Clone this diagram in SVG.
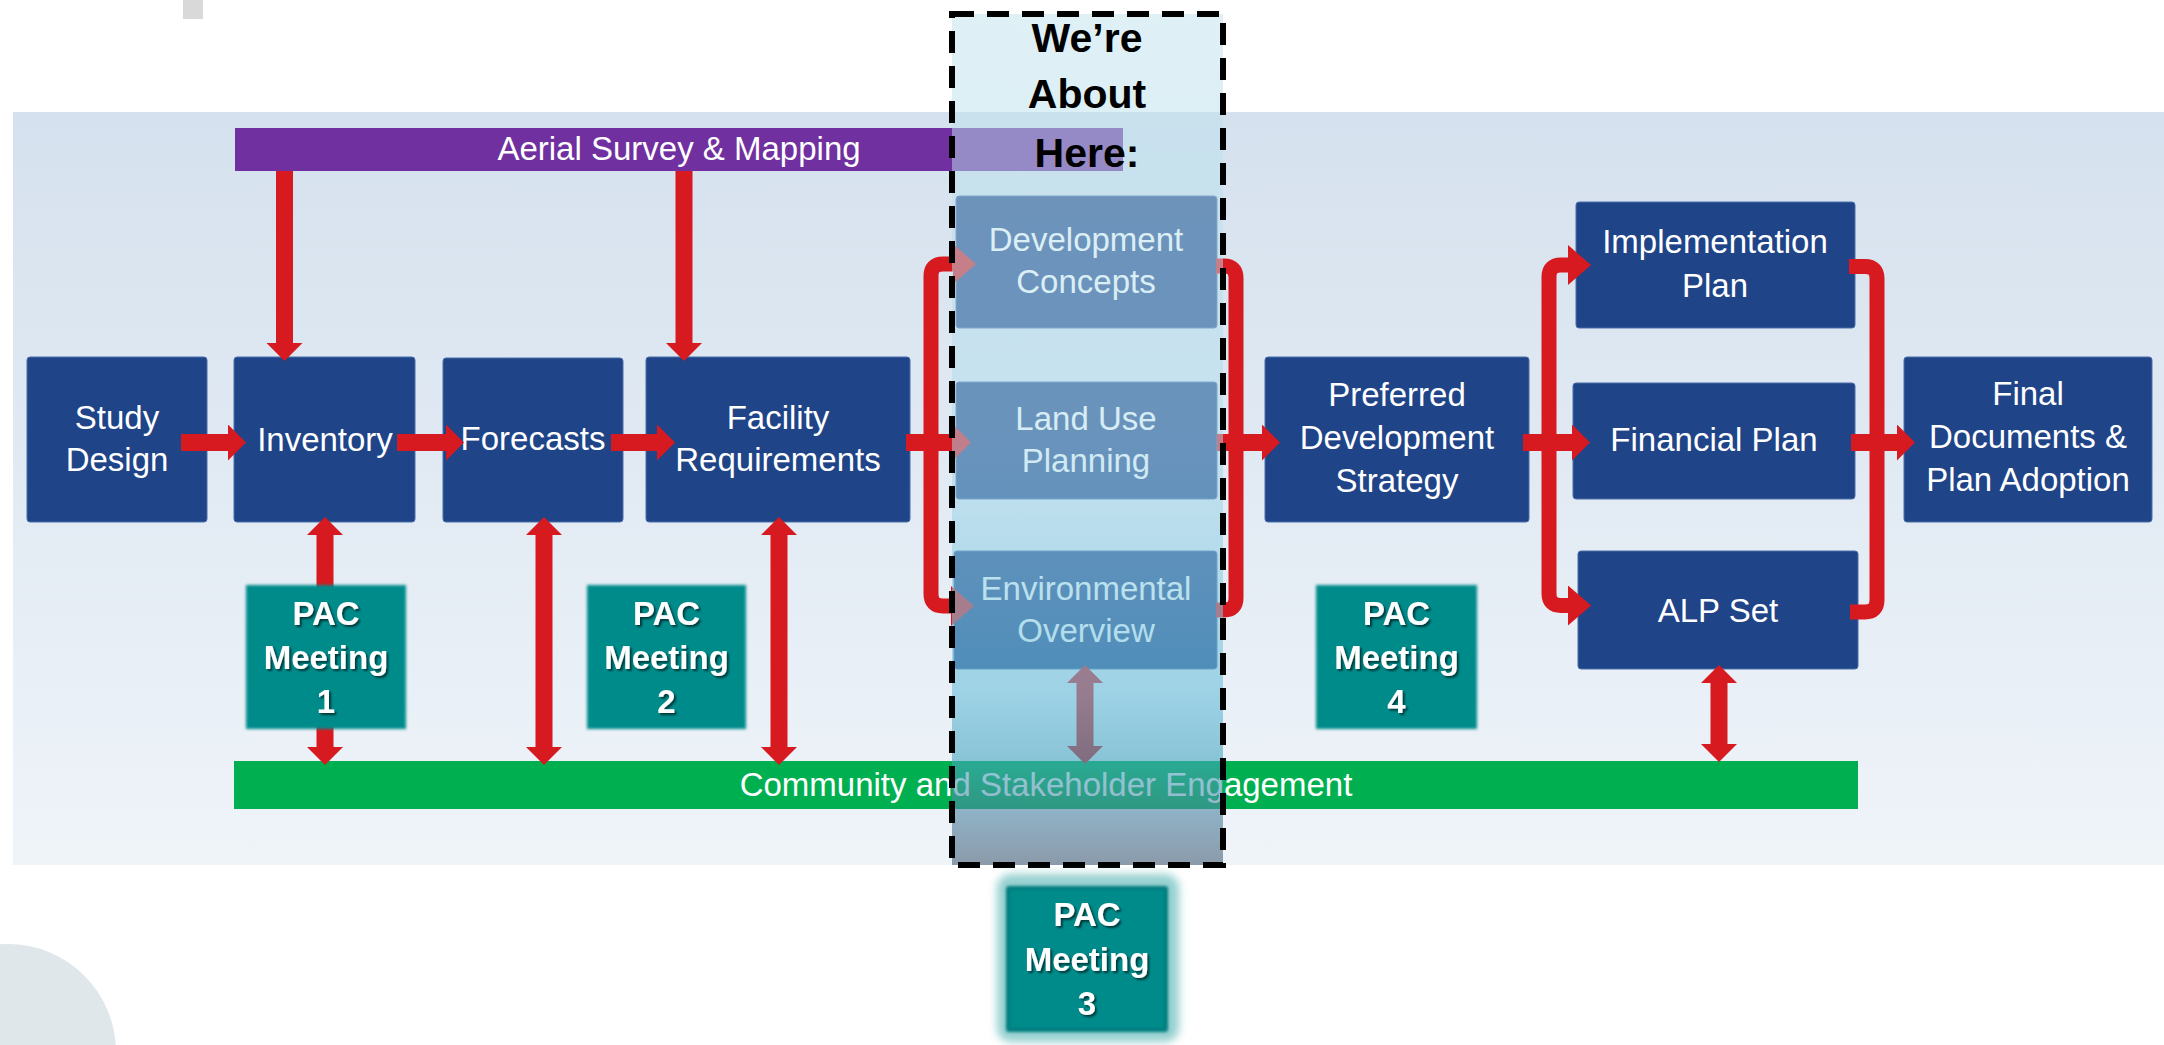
<svg xmlns="http://www.w3.org/2000/svg" width="2164" height="1045" viewBox="0 0 2164 1045">
  <style>
    .box { fill: #1f4488; stroke: #4a6ea8; stroke-width: 1; }
    .lbl { font-family: "Liberation Sans", Arial, sans-serif; font-size: 33px; fill: #ffffff; text-anchor: middle; }
    .pac { fill: #008b8b; }
    .pact { font-family: "Liberation Sans", Arial, sans-serif; font-size: 33px; font-weight: bold; fill: #ffffff; text-anchor: middle; }
    .flow { fill: none; stroke: #d71920; stroke-width: 17; }
    .brk { fill: none; stroke: #d71920; stroke-width: 15; }
    .here { font-family: "Liberation Sans", Arial, sans-serif; font-size: 41px; font-weight: bold; fill: #000000; text-anchor: middle; }
  </style>
  <defs>
    <linearGradient id="panelGrad" x1="0" y1="0" x2="0" y2="1">
      <stop offset="0" stop-color="#d5e1ee"/>
      <stop offset="1" stop-color="#eff4f9"/>
    </linearGradient>
    <linearGradient id="hiGrad" gradientUnits="userSpaceOnUse" x1="0" y1="14" x2="0" y2="865">
      <stop offset="0" stop-color="rgb(191,226,236)" stop-opacity="0.5"/>
      <stop offset="0.49" stop-color="rgb(175,220,236)" stop-opacity="0.52"/>
      <stop offset="0.8" stop-color="rgb(107,190,218)" stop-opacity="0.6"/>
      <stop offset="0.88" stop-color="rgb(70,165,190)" stop-opacity="0.6"/>
      <stop offset="0.94" stop-color="rgb(80,132,162)" stop-opacity="0.6"/>
      <stop offset="1" stop-color="rgb(72,95,118)" stop-opacity="0.6"/>
    </linearGradient>
    <marker id="ah" viewBox="0 -18 18 36" markerWidth="18" markerHeight="36" refX="0" refY="0" markerUnits="userSpaceOnUse" orient="auto-start-reverse">
      <path d="M0,-18 L18,0 L0,18 Z" fill="#d71920"/>
    </marker>
    <marker id="ahb" viewBox="0 -20 23 40" markerWidth="23" markerHeight="40" refX="0" refY="0" markerUnits="userSpaceOnUse" orient="auto-start-reverse">
      <path d="M0,-20 L23,0 L0,20 Z" fill="#d71920"/>
    </marker>
    <filter id="soft" x="-10%" y="-10%" width="120%" height="120%">
      <feGaussianBlur stdDeviation="1.6"/>
    </filter>
    <filter id="glow" x="-20%" y="-20%" width="140%" height="140%">
      <feGaussianBlur stdDeviation="4"/>
    </filter>
    <filter id="tshadow" x="-20%" y="-20%" width="140%" height="140%">
      <feDropShadow dx="2" dy="2" stdDeviation="1.2" flood-color="#000000" flood-opacity="0.6"/>
    </filter>
  </defs>

  <!-- page decorations -->
  <rect x="183" y="0" width="20" height="19" fill="#d9d9d9"/>
  <circle cx="8" cy="1052" r="108" fill="#dfe7ea"/>

  <!-- backdrop panel -->
  <rect x="13" y="112" width="2151" height="753" fill="url(#panelGrad)"/>

  <!-- horizontal bands -->
  <g id="aerial-survey">
    <rect x="235" y="128" width="888" height="43" fill="#7030a0"/>
    <text class="lbl" x="679" y="160">Aerial Survey &amp; Mapping</text>
  </g>
  <g id="community-engagement">
    <rect x="234" y="761" width="1624" height="48" fill="#00b050"/>
    <text class="lbl" x="1046" y="796">Community and Stakeholder Engagement</text>
  </g>

  <!-- process steps -->
  <g id="study-design">
    <rect class="box" x="27" y="357" width="180" height="165" rx="3"/>
    <text class="lbl" x="117" y="429">Study</text>
    <text class="lbl" x="117" y="471">Design</text>
  </g>
  <g id="inventory">
    <rect class="box" x="234" y="357" width="181" height="165" rx="3"/>
    <text class="lbl" x="325" y="451">Inventory</text>
  </g>
  <g id="forecasts">
    <rect class="box" x="443" y="358" width="180" height="164" rx="3"/>
    <text class="lbl" x="533" y="450">Forecasts</text>
  </g>
  <g id="facility-requirements">
    <rect class="box" x="646" y="357" width="264" height="165" rx="3"/>
    <text class="lbl" x="778" y="429">Facility</text>
    <text class="lbl" x="778" y="471">Requirements</text>
  </g>
  <g id="development-concepts">
    <rect class="box" x="956" y="196" width="261" height="132" rx="3"/>
    <text class="lbl" x="1086" y="251">Development</text>
    <text class="lbl" x="1086" y="293">Concepts</text>
  </g>
  <g id="land-use-planning">
    <rect class="box" x="956" y="382" width="261" height="117" rx="3"/>
    <text class="lbl" x="1086" y="430">Land Use</text>
    <text class="lbl" x="1086" y="472">Planning</text>
  </g>
  <g id="environmental-overview">
    <rect class="box" x="954" y="551" width="263" height="118" rx="3"/>
    <text class="lbl" x="1086" y="600">Environmental</text>
    <text class="lbl" x="1086" y="642">Overview</text>
  </g>
  <g id="preferred-strategy">
    <rect class="box" x="1265" y="357" width="264" height="165" rx="3"/>
    <text class="lbl" x="1397" y="406">Preferred</text>
    <text class="lbl" x="1397" y="449">Development</text>
    <text class="lbl" x="1397" y="492">Strategy</text>
  </g>
  <g id="implementation-plan">
    <rect class="box" x="1576" y="202" width="279" height="126" rx="3"/>
    <text class="lbl" x="1715" y="253">Implementation</text>
    <text class="lbl" x="1715" y="297">Plan</text>
  </g>
  <g id="financial-plan">
    <rect class="box" x="1573" y="383" width="282" height="116" rx="3"/>
    <text class="lbl" x="1714" y="451">Financial Plan</text>
  </g>
  <g id="alp-set">
    <rect class="box" x="1578" y="551" width="280" height="118" rx="3"/>
    <text class="lbl" x="1718" y="622">ALP Set</text>
  </g>
  <g id="final-documents">
    <rect class="box" x="1904" y="357" width="248" height="165" rx="3"/>
    <text class="lbl" x="2028" y="405">Final</text>
    <text class="lbl" x="2028" y="448">Documents &amp;</text>
    <text class="lbl" x="2028" y="491">Plan Adoption</text>
  </g>

  <!-- connectors -->
  <g id="connectors">
    <!-- survey feeds -->
    <path class="flow" d="M284.5,171 V343" marker-end="url(#ah)"/>
    <path class="flow" d="M684,171 V343" marker-end="url(#ah)"/>
    <!-- main sequence -->
    <path class="flow" d="M181,442.5 H228" marker-end="url(#ah)"/>
    <path class="flow" d="M397,442.5 H446" marker-end="url(#ah)"/>
    <path class="flow" d="M611,442.5 H657" marker-end="url(#ah)"/>
    <path class="flow" d="M906,442.5 H953" marker-end="url(#ah)"/>
    <!-- split into the three alternatives studies -->
    <path class="brk" d="M931,445 V276 Q931,264 943,264 H953" marker-end="url(#ahb)"/>
    <path class="brk" d="M931,440 V594 Q931,606 943,606 H951" marker-end="url(#ahb)"/>
    <!-- merge into preferred strategy -->
    <path class="brk" d="M1216,266 H1224 Q1236,266 1236,278 V598 Q1236,610 1224,610 H1216"/>
    <path class="flow" d="M1217,442.5 H1262" marker-end="url(#ah)"/>
    <!-- split into the plan set -->
    <path class="flow" d="M1523,442.5 H1572" marker-end="url(#ah)"/>
    <path class="brk" d="M1549,445 V277 Q1549,265 1561,265 H1568" marker-end="url(#ahb)"/>
    <path class="brk" d="M1549,440 V593.5 Q1549,605.5 1561,605.5 H1568" marker-end="url(#ahb)"/>
    <!-- merge into final documents -->
    <path class="brk" d="M1849,266.5 H1865 Q1877,266.5 1877,278.5 V600 Q1877,612 1865,612 H1850"/>
    <path class="flow" d="M1851,442.5 H1897" marker-end="url(#ah)"/>
    <!-- engagement links -->
    <path class="flow" d="M325,535 V747" stroke-width="16" marker-start="url(#ah)" marker-end="url(#ah)"/>
    <path class="flow" d="M544,535 V747" stroke-width="16" marker-start="url(#ah)" marker-end="url(#ah)"/>
    <path class="flow" d="M779,535 V747" stroke-width="16" marker-start="url(#ah)" marker-end="url(#ah)"/>
    <path class="flow" d="M1085,683 V746" stroke-width="15" marker-start="url(#ah)" marker-end="url(#ah)"/>
    <path class="flow" d="M1719,683 V744" stroke-width="16" marker-start="url(#ah)" marker-end="url(#ah)"/>
  </g>

  <!-- PAC meetings -->
  <g id="pac-meeting-1">
    <rect class="pac" x="246" y="585" width="160" height="144" filter="url(#soft)"/>
    <g filter="url(#tshadow)">
      <text class="pact" x="326" y="625">PAC</text>
      <text class="pact" x="326" y="669">Meeting</text>
      <text class="pact" x="326" y="713">1</text>
    </g>
  </g>
  <g id="pac-meeting-2">
    <rect class="pac" x="587" y="585" width="159" height="144" filter="url(#soft)"/>
    <g filter="url(#tshadow)">
      <text class="pact" x="666.5" y="625">PAC</text>
      <text class="pact" x="666.5" y="669">Meeting</text>
      <text class="pact" x="666.5" y="713">2</text>
    </g>
  </g>
  <g id="pac-meeting-4">
    <rect class="pac" x="1316" y="585" width="161" height="144" filter="url(#soft)"/>
    <g filter="url(#tshadow)">
      <text class="pact" x="1396.5" y="625">PAC</text>
      <text class="pact" x="1396.5" y="669">Meeting</text>
      <text class="pact" x="1396.5" y="713">4</text>
    </g>
  </g>

  <!-- current-stage highlight -->
  <g id="current-stage">
    <rect x="952" y="14" width="271" height="851" fill="url(#hiGrad)"/>
    <rect x="952" y="14" width="271" height="851" fill="none" stroke="#000000" stroke-width="6" stroke-dasharray="22 13"/>
    <text class="here" x="1087" y="52">We’re</text>
    <text class="here" x="1087" y="108">About</text>
    <text class="here" x="1087" y="167">Here:</text>
  </g>

  <g id="pac-meeting-3">
    <rect x="997" y="874" width="182" height="168" rx="14" fill="#7cc4c4" opacity="0.8" filter="url(#glow)"/>
    <rect x="1006" y="886" width="162" height="146" rx="3" fill="#007d7d" filter="url(#soft)"/>
    <rect x="1010" y="890" width="154" height="138" fill="#008b8b" filter="url(#soft)"/>
    <g filter="url(#tshadow)">
      <text class="pact" x="1087" y="926">PAC</text>
      <text class="pact" x="1087" y="971">Meeting</text>
      <text class="pact" x="1087" y="1015">3</text>
    </g>
  </g>
</svg>
